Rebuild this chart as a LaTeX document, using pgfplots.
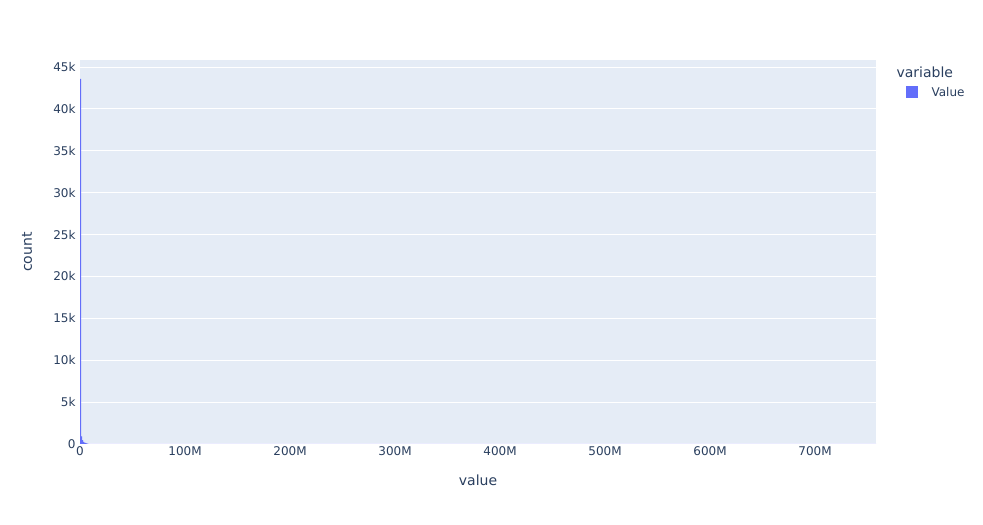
\documentclass[border=0pt]{standalone}
\usepackage{fontspec}
\setmainfont{DejaVu Sans}
\usepackage{xcolor}
\usepackage{pgfplots}
\pgfplotsset{compat=1.18}
\definecolor{plotBg}{HTML}{E5ECF6}
\definecolor{barBlue}{HTML}{636EFA}
\definecolor{inkT}{HTML}{2A3F5F}
\newcommand{\tickfont}{\fontsize{12bp}{14bp}\selectfont}
\newcommand{\titlefont}{\fontsize{14bp}{16bp}\selectfont}

\begin{document}
\begin{tikzpicture}[x=1bp,y=1bp]
\path[use as bounding box, fill=white] (0,0) rectangle (983,525);
\begin{axis}[
    at={(80bp,81bp)}, anchor=south west,
    scale only axis, width=796bp, height=384bp,
    xmin=0, xmax=758, ymin=0, ymax=45850,
    axis background/.style={fill=plotBg},
    axis line style={draw=none},
    major tick length=0pt,
    ymajorgrids, grid style={white, line width=1bp},
    xtick={0,100,...,700},
    xticklabels={0,100M,200M,300M,400M,500M,600M,700M},
    ytick={0,5000,10000,15000,20000,25000,30000,35000,40000,45000},
    yticklabels={0,5k,10k,15k,20k,25k,30k,35k,40k,45k},
    scaled y ticks=false,
    ticklabel style={font=\tickfont, color=inkT},
    xticklabel style={yshift=1bp},
    yticklabel style={xshift=-1bp},
    clip=false,
  ]
  % histogram counts per 1M bin (value in millions)
  \addplot[ybar interval, fill=barBlue, draw=none] coordinates {
    (0,43600) (1,900) (2,450) (3,260) (4,170) (5,110) (6,70) (7,40)
    (8,0) (756,1) (757,1) (758,1)};
\end{axis}
% axis titles
\node[font=\titlefont, color=inkT] at (478,45) {value};
\node[font=\titlefont, color=inkT, rotate=90] at (27,273) {count};
% legend
\node[font=\titlefont, color=inkT, anchor=west] at (893,453) {variable};
\fill[barBlue] (906,427) rectangle (918,439);
\node[font=\tickfont, color=inkT, anchor=west] at (928,433) {Value};
\end{tikzpicture}
\end{document}
